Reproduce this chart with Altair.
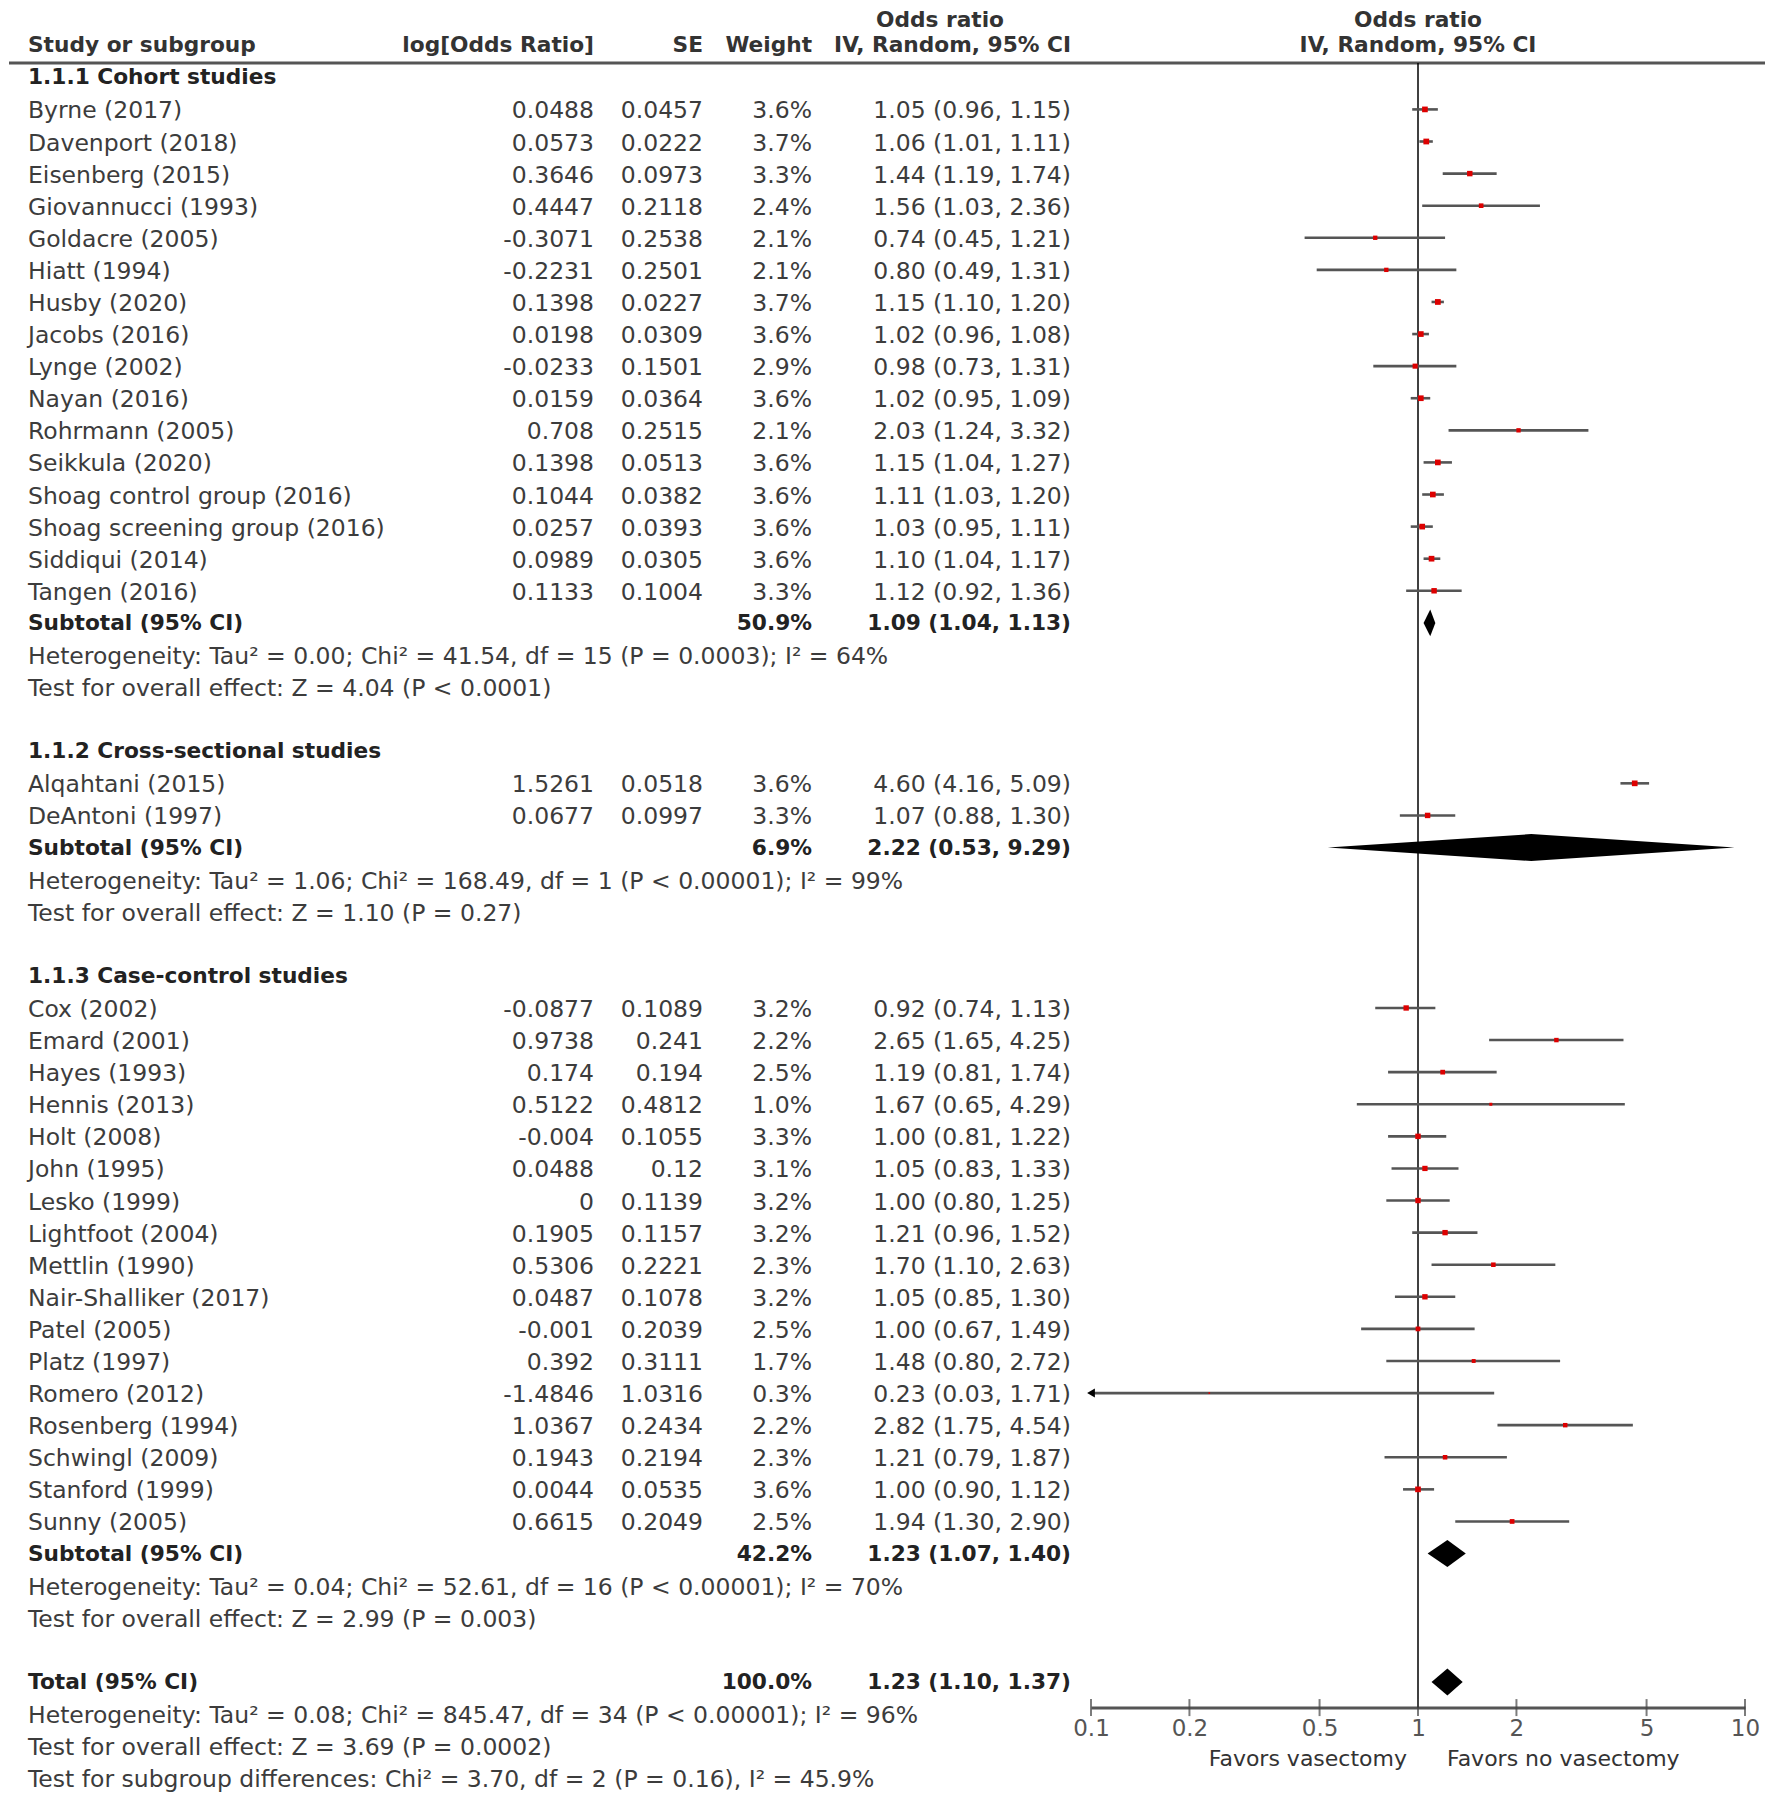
import altair as alt
import pandas as pd

FONT = "DejaVu Sans"
REG_SIZE = 23.5
BOLD_SIZE = 21.7
REG_COLOR = "#3c3c3c"
BOLD_COLOR = "#222222"

# ---------------- data ----------------
group_titles = ["1.1.1 Cohort studies", "1.1.2 Cross-sectional studies", "1.1.3 Case-control studies"]

cohort_study = ["Byrne (2017)", "Davenport (2018)", "Eisenberg (2015)", "Giovannucci (1993)",
                "Goldacre (2005)", "Hiatt (1994)", "Husby (2020)", "Jacobs (2016)", "Lynge (2002)",
                "Nayan (2016)", "Rohrmann (2005)", "Seikkula (2020)", "Shoag control group (2016)",
                "Shoag screening group (2016)", "Siddiqui (2014)", "Tangen (2016)"]
cohort_logor = [0.0488, 0.0573, 0.3646, 0.4447, -0.3071, -0.2231, 0.1398, 0.0198, -0.0233,
                0.0159, 0.708, 0.1398, 0.1044, 0.0257, 0.0989, 0.1133]
cohort_se = [0.0457, 0.0222, 0.0973, 0.2118, 0.2538, 0.2501, 0.0227, 0.0309, 0.1501,
             0.0364, 0.2515, 0.0513, 0.0382, 0.0393, 0.0305, 0.1004]
cohort_weight = [3.6, 3.7, 3.3, 2.4, 2.1, 2.1, 3.7, 3.6, 2.9, 3.6, 2.1, 3.6, 3.6, 3.6, 3.6, 3.3]
cohort_or = [1.05, 1.06, 1.44, 1.56, 0.74, 0.80, 1.15, 1.02, 0.98, 1.02, 2.03, 1.15, 1.11, 1.03, 1.10, 1.12]
cohort_lo = [0.96, 1.01, 1.19, 1.03, 0.45, 0.49, 1.10, 0.96, 0.73, 0.95, 1.24, 1.04, 1.03, 0.95, 1.04, 0.92]
cohort_hi = [1.15, 1.11, 1.74, 2.36, 1.21, 1.31, 1.20, 1.08, 1.31, 1.09, 3.32, 1.27, 1.20, 1.11, 1.17, 1.36]

cross_study = ["Alqahtani (2015)", "DeAntoni (1997)"]
cross_logor = [1.5261, 0.0677]
cross_se = [0.0518, 0.0997]
cross_weight = [3.6, 3.3]
cross_or = [4.60, 1.07]
cross_lo = [4.16, 0.88]
cross_hi = [5.09, 1.30]

case_study = ["Cox (2002)", "Emard (2001)", "Hayes (1993)", "Hennis (2013)", "Holt (2008)",
              "John (1995)", "Lesko (1999)", "Lightfoot (2004)", "Mettlin (1990)",
              "Nair-Shalliker (2017)", "Patel (2005)", "Platz (1997)", "Romero (2012)",
              "Rosenberg (1994)", "Schwingl (2009)", "Stanford (1999)", "Sunny (2005)"]
case_logor = [-0.0877, 0.9738, 0.174, 0.5122, -0.004, 0.0488, 0, 0.1905, 0.5306, 0.0487,
              -0.001, 0.392, -1.4846, 1.0367, 0.1943, 0.0044, 0.6615]
case_se = [0.1089, 0.241, 0.194, 0.4812, 0.1055, 0.12, 0.1139, 0.1157, 0.2221, 0.1078,
           0.2039, 0.3111, 1.0316, 0.2434, 0.2194, 0.0535, 0.2049]
case_weight = [3.2, 2.2, 2.5, 1.0, 3.3, 3.1, 3.2, 3.2, 2.3, 3.2, 2.5, 1.7, 0.3, 2.2, 2.3, 3.6, 2.5]
case_or = [0.92, 2.65, 1.19, 1.67, 1.00, 1.05, 1.00, 1.21, 1.70, 1.05, 1.00, 1.48, 0.23, 2.82, 1.21, 1.00, 1.94]
case_lo = [0.74, 1.65, 0.81, 0.65, 0.81, 0.83, 0.80, 0.96, 1.10, 0.85, 0.67, 0.80, 0.03, 1.75, 0.79, 0.90, 1.30]
case_hi = [1.13, 4.25, 1.74, 4.29, 1.22, 1.33, 1.25, 1.52, 2.63, 1.30, 1.49, 2.72, 1.71, 4.54, 1.87, 1.12, 2.90]

sub_weight = [50.9, 6.9, 42.2]
sub_or = [1.09, 2.22, 1.23]
sub_lo = [1.04, 0.53, 1.07]
sub_hi = [1.13, 9.29, 1.40]
sub_het = ["Heterogeneity: Tau\u00b2 = 0.00; Chi\u00b2 = 41.54, df = 15 (P = 0.0003); I\u00b2 = 64%",
           "Heterogeneity: Tau\u00b2 = 1.06; Chi\u00b2 = 168.49, df = 1 (P < 0.00001); I\u00b2 = 99%",
           "Heterogeneity: Tau\u00b2 = 0.04; Chi\u00b2 = 52.61, df = 16 (P < 0.00001); I\u00b2 = 70%"]
sub_test = ["Test for overall effect: Z = 4.04 (P < 0.0001)",
            "Test for overall effect: Z = 1.10 (P = 0.27)",
            "Test for overall effect: Z = 2.99 (P = 0.003)"]

total_weight = 100.0
total_or, total_lo, total_hi = 1.23, 1.10, 1.37
total_notes = ["Heterogeneity: Tau\u00b2 = 0.08; Chi\u00b2 = 845.47, df = 34 (P < 0.00001); I\u00b2 = 96%",
               "Test for overall effect: Z = 3.69 (P = 0.0002)",
               "Test for subgroup differences: Chi\u00b2 = 3.70, df = 2 (P = 0.16), I\u00b2 = 45.9%"]

tick_values = [0.1, 0.2, 0.5, 1, 2, 5, 10]
favors_left = "Favors vasectomy"
favors_right = "Favors no vasectomy"

# ---------------- table construction ----------------
groups = [
    (cohort_study, cohort_logor, cohort_se, cohort_weight, cohort_or, cohort_lo, cohort_hi),
    (cross_study, cross_logor, cross_se, cross_weight, cross_or, cross_lo, cross_hi),
    (case_study, case_logor, case_se, case_weight, case_or, case_lo, case_hi),
]

def ci_txt(o, l, h):
    return f"{o:.2f} ({l:.2f}, {h:.2f})"

XMIN = tick_values[0]
rows = []
diam = []
r = 0
for g, (names, lor, se, w, o, lo, hi) in enumerate(groups):
    rows.append(dict(row=r, kind="section", label=group_titles[g]))
    r += 1
    for i in range(len(names)):
        rows.append(dict(row=r, kind="study", label=names[i], lor=str(lor[i]), se=str(se[i]),
                         wt=f"{w[i]:.1f}%", ci=ci_txt(o[i], lo[i], hi[i]),
                         or_=o[i], lo=lo[i], lo_c=max(lo[i], XMIN), hi=hi[i],
                         sz=w[i] * 9.0, clipped=lo[i] < XMIN))
        r += 1
    rows.append(dict(row=r, kind="subtotal", label="Subtotal (95% CI)", wt=f"{sub_weight[g]:.1f}%",
                     ci=ci_txt(sub_or[g], sub_lo[g], sub_hi[g])))
    diam.append((f"s{g}", r, sub_lo[g], sub_or[g], sub_hi[g]))
    r += 1
    rows.append(dict(row=r, kind="note", label=sub_het[g]))
    r += 1
    rows.append(dict(row=r, kind="note", label=sub_test[g]))
    r += 1
    r += 1  # blank line

rows.append(dict(row=r, kind="subtotal", label="Total (95% CI)", wt=f"{total_weight:.1f}%",
                 ci=ci_txt(total_or, total_lo, total_hi)))
diam.append(("tot", r, total_lo, total_or, total_hi))
LAST_ROW = r + 1
r += 1
for t in total_notes:
    rows.append(dict(row=r, kind="note", label=t))
    r += 1

df = pd.DataFrame(rows)

H_HALF = 0.42
dpts = []
for gid, rr, l, o, h in diam:
    dpts.append(dict(grp=gid, x=l, top=rr, bot=rr))
    dpts.append(dict(grp=gid, x=o, top=rr - H_HALF, bot=rr + H_HALF))
    dpts.append(dict(grp=gid, x=h, top=rr, bot=rr))
ddf = pd.DataFrame(dpts)

HEAD_ROW1 = -2
HEAD_ROW2 = -1
RULE_ROW = -0.446
AXIS_ROW = LAST_ROW - 0.2       # the axis line sits just above the overall heterogeneity row
FAVORS_ROW = LAST_ROW + 1.4

# ---------------- scales ----------------
PAD_TOP = 6
H = 1788
Y_TOP, Y_BOT = -PAD_TOP, 1706 - PAD_TOP
xs = alt.Scale(type="log", domain=[tick_values[0], tick_values[-1]], range=[1083, 1737])
ys = alt.Scale(domain=[-2.16, LAST_ROW], range=[Y_TOP, Y_BOT])
axis_px = Y_TOP + (AXIS_ROW + 2.16) / (LAST_ROW + 2.16) * (Y_BOT - Y_TOP)
xaxis = alt.Axis(values=tick_values, format="~g", grid=False, ticks=False, tickSize=0,
                 domainColor="#555555", domainWidth=3, labelFont=FONT, labelFontSize=23,
                 labelColor="#555555", labelPadding=10, title=None, offset=round(axis_px - H, 1),
                 labelFlush=False, labelOverlap=False, labelBound=False)

def X(f):
    return alt.X(f, type="quantitative", scale=xs, axis=xaxis)

def Y(f):
    return alt.Y(f, type="quantitative", scale=ys, axis=None)

base = alt.Chart(df)

def txt(filter_expr, field, xpx, align, bold=False):
    return base.transform_filter(filter_expr).mark_text(
        align=align, baseline="middle", font=FONT,
        fontSize=BOLD_SIZE if bold else REG_SIZE,
        fontWeight="bold" if bold else "normal",
        color=BOLD_COLOR if bold else REG_COLOR,
        dy=0 if bold else 2,
    ).encode(x=alt.value(xpx), y=Y("row"), text=alt.Text(field, type="nominal"))

layers = []
# left table
layers.append(txt("datum.kind == 'study' || datum.kind == 'note'", "label", 20, "left"))
layers.append(txt("datum.kind == 'section' || datum.kind == 'subtotal'", "label", 20, "left", True))
layers.append(txt("datum.kind == 'study'", "lor", 586, "right"))
layers.append(txt("datum.kind == 'study'", "se", 695, "right"))
layers.append(txt("datum.kind == 'study'", "wt", 804, "right"))
layers.append(txt("datum.kind == 'study'", "ci", 1063, "right"))
layers.append(txt("datum.kind == 'subtotal'", "wt", 804, "right", True))
layers.append(txt("datum.kind == 'subtotal'", "ci", 1063, "right", True))

# headers
TOP_DY = 6.5
hdr = [
    dict(row=HEAD_ROW2, label="Study or subgroup", px=20, al="left", dy=0),
    dict(row=HEAD_ROW2, label="log[Odds Ratio]", px=586, al="right", dy=0),
    dict(row=HEAD_ROW2, label="SE", px=695, al="right", dy=0),
    dict(row=HEAD_ROW2, label="Weight", px=804, al="right", dy=0),
    dict(row=HEAD_ROW2, label="IV, Random, 95% CI", px=1063, al="right", dy=0),
    dict(row=HEAD_ROW1, label="Odds ratio", px=932, al="center", dy=TOP_DY),
]
for h in hdr:
    layers.append(alt.Chart(pd.DataFrame([dict(row=h["row"], label=h["label"])])).mark_text(
        align=h["al"], baseline="middle", font=FONT, fontSize=BOLD_SIZE, fontWeight="bold",
        color="#333333", dy=h["dy"]).encode(x=alt.value(h["px"]), y=Y("row"), text="label:N"))

rhdr1 = pd.DataFrame([dict(x=1, row=HEAD_ROW1, label="Odds ratio")])
rhdr2 = pd.DataFrame([dict(x=1, row=HEAD_ROW2, label="IV, Random, 95% CI")])
layers.append(alt.Chart(rhdr1).mark_text(align="center", baseline="middle", font=FONT, dy=TOP_DY,
                                         fontSize=BOLD_SIZE, fontWeight="bold", color="#333333")
              .encode(x=X("x"), y=Y("row"), text="label:N"))
layers.append(alt.Chart(rhdr2).mark_text(align="center", baseline="middle", font=FONT,
                                         fontSize=BOLD_SIZE, fontWeight="bold", color="#333333")
              .encode(x=X("x"), y=Y("row"), text="label:N"))

# header rule
layers.append(alt.Chart(pd.DataFrame([dict(y=RULE_ROW)])).mark_rule(color="#555555", strokeWidth=3)
              .encode(x=alt.value(1), x2=alt.value(1757), y=Y("y")))

# null line
layers.append(alt.Chart(pd.DataFrame([dict(x=1, y1=RULE_ROW, y2=AXIS_ROW)]))
              .mark_rule(color="black", strokeWidth=1.5)
              .encode(x=X("x"), y=Y("y1"), y2="y2"))

# CI lines, squares, arrows
studies = base.transform_filter("datum.kind == 'study'")
layers.append(studies.mark_rule(color="#555555", strokeWidth=2.6)
              .encode(x=X("lo_c"), x2="hi", y=Y("row")))
layers.append(studies.mark_square(color="#dd0000", opacity=1)
              .encode(x=X("or_"), y=Y("row"), size=alt.Size("sz:Q", scale=None)))
layers.append(studies.transform_filter("datum.clipped").mark_point(
    shape="triangle-left", filled=True, color="black", opacity=1, size=80)
    .encode(x=X("lo_c"), y=Y("row")))

# diamonds
layers.append(alt.Chart(ddf).mark_area(color="black", opacity=1)
              .encode(x=X("x"), y=Y("top"), y2="bot", detail="grp:N"))

# axis ticks
layers.append(alt.Chart(pd.DataFrame(dict(t=tick_values, r=[AXIS_ROW] * len(tick_values))))
              .mark_tick(orient="vertical", color="#444444", thickness=2, size=17)
              .encode(x=X("t"), y=Y("r")))

# favors labels
fav = pd.DataFrame([dict(x=1, row=FAVORS_ROW, label=favors_left)])
fav2 = pd.DataFrame([dict(x=1, row=FAVORS_ROW, label=favors_right)])
layers.append(alt.Chart(fav).mark_text(align="right", baseline="middle", font=FONT, fontSize=22,
                                       color="#333333", dx=-11)
              .encode(x=X("x"), y=Y("row"), text="label:N"))
layers.append(alt.Chart(fav2).mark_text(align="left", baseline="middle", font=FONT, fontSize=22,
                                        color="#333333", dx=29)
              .encode(x=X("x"), y=Y("row"), text="label:N"))

chart = alt.layer(*layers).properties(
    width=1760, height=H,
    padding={"top": PAD_TOP, "left": 0, "right": 0, "bottom": 0},
    autosize=alt.AutoSizeParams(type="none"),
    background="white",
).configure_view(stroke=None)

chart.save("out.html", embed_options={"renderer": "svg", "actions": False})
